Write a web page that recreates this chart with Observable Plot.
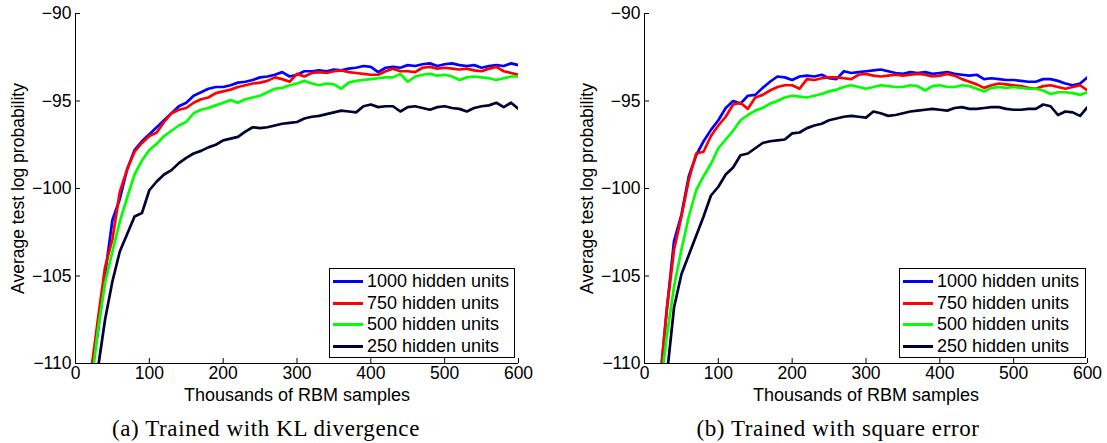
<!DOCTYPE html>
<html>
<head>
<meta charset="utf-8">
<script src="https://cdn.jsdelivr.net/npm/d3@7"></script>
<script src="https://cdn.jsdelivr.net/npm/@observablehq/plot@0.6"></script>
<style>
  html, body { margin: 0; padding: 0; background: #fff; }
  #root { position: relative; width: 1107px; height: 443px; overflow: hidden; background: #fff; }
  .panel { position: absolute; top: 0; }
  .legend { position: absolute; border: 1px solid #000; background: #fff; box-sizing: border-box;
            font-family: "Liberation Sans", Arial, sans-serif; font-size: 18px; color: #000; }
  .legend .row { position: absolute; left: 0; height: 21px; display: flex; align-items: center; white-space: nowrap; }
  .legend .sw { width: 30px; height: 3px; margin-left: 3px; margin-right: 4px; }
  .caption { position: absolute; font-family: "Liberation Serif", "Times New Roman", serif; font-size: 23px;
             letter-spacing: 0.6px; color: #000; white-space: nowrap; transform: translateX(-50%); }
</style>
</head>
<body>
<div id="root"></div>
<script>
// ---- data ----
const seriesNames = ["1000 hidden units", "750 hidden units", "500 hidden units", "250 hidden units"];
const seriesColors = ["#0000ff", "#ff0000", "#00ff00", "#000033"];
const xTicks = [0, 100, 200, 300, 400, 500, 600];
const yTicks = [-110, -105, -100, -95, -90];
const xSamples = d3.range(20, 601, 10); // thousands of RBM samples

// (a) KL divergence
const klUnits1000 = [-110.8,-108.3,-104.9,-101.8,-100.6,-98.9,-97.8,-97.3,-96.9,-96.5,-96.1,-95.7,-95.3,-95.1,-94.7,-94.5,-94.3,-94.2,-94.2,-94.1,-93.95,-93.9,-93.8,-93.65,-93.6,-93.5,-93.35,-93.6,-93.5,-93.3,-93.3,-93.25,-93.3,-93.2,-93.25,-93.15,-93.1,-93.0,-93.05,-93.35,-93.1,-93.05,-93.1,-92.95,-93.0,-92.9,-92.85,-93.0,-92.9,-92.85,-92.95,-93.0,-92.95,-93.1,-93.0,-92.95,-93.0,-92.85,-92.95];
const klUnits750 = [-110.8,-107.6,-104.5,-102.9,-100.2,-98.9,-97.9,-97.4,-97.0,-96.8,-96.2,-95.7,-95.5,-95.4,-95.1,-94.9,-94.8,-94.55,-94.45,-94.35,-94.2,-94.1,-94.0,-93.95,-93.85,-93.65,-93.75,-93.9,-93.45,-93.6,-93.4,-93.35,-93.4,-93.3,-93.25,-93.35,-93.4,-93.45,-93.5,-93.5,-93.3,-93.15,-93.3,-93.3,-93.35,-93.1,-93.05,-93.15,-93.1,-93.15,-93.2,-93.15,-93.25,-93.3,-93.15,-93.05,-93.3,-93.4,-93.5];
const klUnits500 = [-111.8,-108.2,-105.4,-103.6,-101.9,-100.5,-99.2,-98.4,-97.8,-97.45,-97.0,-96.7,-96.4,-96.2,-95.7,-95.5,-95.4,-95.25,-95.1,-94.95,-95.1,-94.9,-94.8,-94.7,-94.5,-94.3,-94.25,-94.1,-94.0,-93.85,-94.0,-94.1,-94.0,-94.05,-94.3,-93.95,-93.85,-93.8,-93.75,-93.7,-93.65,-93.65,-93.45,-93.9,-93.6,-93.5,-93.45,-93.55,-93.5,-93.6,-93.8,-93.65,-93.6,-93.65,-93.7,-93.8,-93.7,-93.6,-93.6];
const klUnits250 = [-114,-110.4,-107.5,-105.3,-103.6,-102.6,-101.6,-101.4,-100.1,-99.6,-99.2,-98.95,-98.55,-98.25,-98.0,-97.85,-97.65,-97.5,-97.25,-97.15,-97.05,-96.75,-96.5,-96.55,-96.5,-96.4,-96.3,-96.25,-96.2,-96.0,-95.9,-95.85,-95.75,-95.65,-95.55,-95.6,-95.65,-95.3,-95.2,-95.35,-95.3,-95.3,-95.6,-95.35,-95.3,-95.4,-95.5,-95.35,-95.3,-95.4,-95.45,-95.6,-95.4,-95.3,-95.25,-95.1,-95.35,-95.1,-95.45];

// (b) square error
const seUnits1000 = [-111.5,-107.0,-103.0,-101.5,-99.3,-98.1,-97.3,-96.65,-96.1,-95.4,-95.0,-95.15,-94.7,-94.65,-94.25,-93.9,-93.6,-93.65,-93.8,-93.6,-93.55,-93.6,-93.5,-93.7,-93.75,-93.3,-93.4,-93.35,-93.3,-93.25,-93.2,-93.3,-93.4,-93.45,-93.35,-93.4,-93.35,-93.45,-93.4,-93.35,-93.45,-93.5,-93.55,-93.5,-93.75,-93.7,-93.75,-93.8,-93.8,-93.85,-93.9,-93.9,-93.75,-93.75,-93.85,-94.0,-94.1,-94.0,-93.65];
const seUnits750 = [-111.5,-107.0,-103.5,-101.6,-99.5,-98.0,-97.9,-97.0,-96.4,-95.9,-95.2,-95.1,-95.45,-94.8,-94.65,-94.4,-94.2,-94.1,-94.1,-94.3,-93.75,-93.8,-93.7,-93.65,-93.65,-93.7,-93.75,-93.5,-93.45,-93.55,-93.6,-93.55,-93.5,-93.55,-93.5,-93.45,-93.5,-93.6,-93.55,-93.45,-93.55,-93.75,-93.9,-94.05,-94.25,-94.1,-94.0,-94.05,-94.1,-94.15,-94.25,-94.3,-94.15,-94.1,-94.2,-94.3,-94.2,-94.1,-94.4];
const seUnits500 = [-112,-108.5,-105.6,-103.5,-101.6,-100.1,-99.3,-98.6,-97.7,-97.2,-96.7,-96.1,-95.8,-95.55,-95.4,-95.15,-95.0,-94.8,-94.7,-94.75,-94.8,-94.7,-94.6,-94.45,-94.35,-94.2,-94.1,-94.2,-94.3,-94.2,-94.1,-94.15,-94.2,-94.2,-94.1,-94.15,-94.4,-94.15,-94.1,-94.2,-94.2,-94.1,-94.15,-94.3,-94.45,-94.25,-94.2,-94.25,-94.2,-94.25,-94.3,-94.3,-94.4,-94.6,-94.5,-94.5,-94.55,-94.65,-94.5];
const seUnits250 = [-114.5,-110.8,-106.8,-104.9,-103.8,-102.7,-101.6,-100.4,-99.9,-99.2,-98.8,-98.1,-98.0,-97.7,-97.4,-97.3,-97.25,-97.2,-96.85,-96.8,-96.55,-96.4,-96.3,-96.1,-96.0,-95.9,-95.85,-95.9,-95.95,-95.6,-95.7,-95.85,-95.8,-95.7,-95.6,-95.55,-95.5,-95.45,-95.5,-95.55,-95.4,-95.35,-95.45,-95.45,-95.4,-95.35,-95.35,-95.45,-95.5,-95.5,-95.45,-95.45,-95.2,-95.3,-95.8,-95.6,-95.65,-95.85,-95.35];

const xLabel = "Thousands of RBM samples";
const yLabel = "Average test log probability";
const captions = ["(a) Trained with KL divergence", "(b) Trained with square error"];

// ---- drawing ----
function toRows(seriesList) {
  const rows = [];
  seriesList.forEach((vals, i) => vals.forEach((v, j) => rows.push({x: xSamples[j], y: v, s: seriesNames[i]})));
  return rows;
}

function panel(seriesList, cfg) {
  return Plot.plot({
    width: cfg.width, height: 400,
    marginTop: 13, marginBottom: 37, marginLeft: cfg.marginLeft, marginRight: cfg.marginRight,
    style: {fontFamily: "'Liberation Sans', Arial, sans-serif", fontSize: "17.5px", background: "#fff", color: "#000", overflow: "visible"},
    x: {domain: [0, 600]},
    y: {domain: [-110, -90]},
    color: {domain: seriesNames, range: seriesColors},
    marks: [
      Plot.line(toRows(seriesList), {x: "x", y: "y", z: "s", stroke: "s", strokeWidth: 2.7, clip: true, strokeLinejoin: "round"}),
      Plot.ruleX([0], {stroke: "#000", strokeWidth: 1}),
      Plot.ruleY([-110], {stroke: "#000", strokeWidth: 1}),
      Plot.axisX({ticks: xTicks, tickSize: 0, tickPadding: 3, tickFormat: d => String(d), label: null, fontSize: 17.5}),
      Plot.axisX({ticks: xTicks, tickSize: -5, text: null, label: null}),
      Plot.axisY({ticks: yTicks, tickSize: 0, tickPadding: 4, label: null, fontSize: 17.5}),
      Plot.axisY({ticks: yTicks, tickSize: -5, text: null, label: null}),
      Plot.text([xLabel], {frameAnchor: "bottom", textAnchor: "middle", lineAnchor: "middle", dy: 32, fontSize: 18, fill: "#000"}),
      Plot.text([yLabel], {frameAnchor: "left", textAnchor: "middle", lineAnchor: "middle", rotate: -90, dx: cfg.yLabelDx, fontSize: 17.5, fill: "#000"})
    ]
  });
}

function legend(left, top, width) {
  const box = document.createElement("div");
  box.className = "legend";
  Object.assign(box.style, {left: left + "px", top: top + "px", width: width + "px", height: "90px"});
  seriesNames.forEach((name, i) => {
    const row = document.createElement("div");
    row.className = "row";
    row.style.top = (2 + i * 21.5) + "px";
    const sw = document.createElement("span");
    sw.className = "sw";
    sw.style.background = seriesColors[i];
    const t = document.createElement("span");
    t.textContent = name;
    row.append(sw, t);
    box.append(row);
  });
  return box;
}

const root = document.getElementById("root");
const left = panel([klUnits1000, klUnits750, klUnits500, klUnits250], {width: 553, marginLeft: 75, marginRight: 35, yLabelDx: -57});
left.classList.add("panel"); left.style.left = "0px";
const right = panel([seUnits1000, seUnits750, seUnits500, seUnits250], {width: 554, marginLeft: 91, marginRight: 20, yLabelDx: -57});
right.classList.add("panel"); right.style.left = "553px";
root.append(left, right);
root.append(legend(329, 268, 186), legend(899, 268, 187));

[[266, captions[0]], [838, captions[1]]].forEach(([cx, text]) => {
  const c = document.createElement("div");
  c.className = "caption";
  c.textContent = text;
  c.style.left = cx + "px";
  c.style.top = "416px";
  root.append(c);
});
</script>
</body>
</html>
